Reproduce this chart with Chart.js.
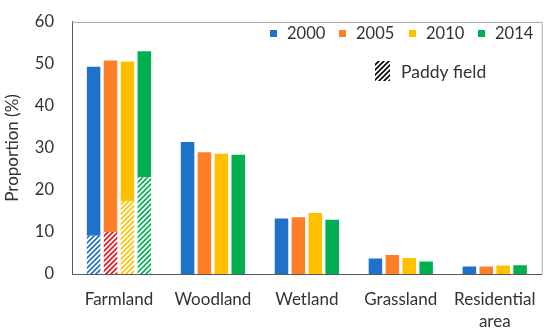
<!DOCTYPE html>
<html><head><meta charset="utf-8">
<script src="https://cdn.jsdelivr.net/npm/chart.js@4"></script>
<style>html,body{margin:0;padding:0;background:#fff}#wrap{width:550px;height:333px;position:relative}</style>
</head><body><div id="wrap"><canvas id="c" width="550" height="333"></canvas></div>
<script>
const categories = ["Farmland", "Woodland", "Wetland", "Grassland", ["Residential", "area"]];
const years = ["2000", "2005", "2010", "2014"];
const values2000 = [49.3, 31.4, 13.2, 3.7, 1.8];
const values2005 = [50.8, 29.0, 13.5, 4.5, 1.8];
const values2010 = [50.6, 28.6, 14.5, 3.8, 2.0];
const values2014 = [53.0, 28.4, 12.9, 3.0, 2.1];
const paddy2000 = [9.1, null, null, null, null];
const paddy2005 = [10.0, null, null, null, null];
const paddy2010 = [17.4, null, null, null, null];
const paddy2014 = [23.0, null, null, null, null];
const yTicks = [0, 10, 20, 30, 40, 50, 60];

const colors = ["#1f71c9", "#ff7f27", "#ffc000", "#00b050"];
const hatchColors = ["#1f71c9", "#e8141b", "#ffc000", "#00b050"];
const FONT = "Lato, 'Open Sans', sans-serif";
const TXT = "#333333";

function hatch(color) {
  const s = 5, c = document.createElement("canvas");
  c.width = s; c.height = s;
  const g = c.getContext("2d");
  g.fillStyle = "#fff"; g.fillRect(0, 0, s, s);
  g.strokeStyle = color; g.lineWidth = 1.6;
  g.beginPath();
  g.moveTo(-1, s + 1); g.lineTo(s + 1, -1);
  g.moveTo(-1, 1); g.lineTo(1, -1);
  g.moveTo(s - 1, s + 1); g.lineTo(s + 1, s - 1);
  g.stroke();
  return document.getElementById("c").getContext("2d").createPattern(c, "repeat");
}

const totals = [values2000, values2005, values2010, values2014];
const paddies = [paddy2000, paddy2005, paddy2010, paddy2014];
const datasets = [];
years.forEach((y, i) => {
  datasets.push({
    label: y + " paddy", stack: y, data: paddies[i],
    backgroundColor: hatch(hatchColors[i]), borderWidth: 0
  });
  datasets.push({
    label: y, stack: y,
    data: totals[i].map((v, k) => v - (paddies[i][k] || 0)),
    backgroundColor: colors[i], borderWidth: 0
  });
});

const legendPlugin = {
  id: "customLegend",
  afterDraw(chart) {
    const ctx = chart.ctx;
    ctx.save();
    ctx.font = "16.5px " + FONT;
    ctx.textBaseline = "middle";
    const xs = [270, 339, 409, 478];
    years.forEach((y, i) => {
      ctx.fillStyle = colors[i];
      ctx.fillRect(xs[i], 30, 7, 7);
      ctx.fillStyle = TXT;
      ctx.fillText(y, xs[i] + 17, 34);
    });
    ctx.fillStyle = hatch("#000");
    ctx.fillRect(375, 61, 15, 20);
    ctx.fillStyle = TXT;
    ctx.font = "17.5px " + FONT;
    ctx.fillText("Paddy field", 401, 72);
    const a = chart.chartArea;
    ctx.strokeStyle = "#a6a6a6"; ctx.lineWidth = 1;
    ctx.beginPath();
    ctx.moveTo(a.left, a.top + 0.5); ctx.lineTo(a.right + 0.5, a.top + 0.5); ctx.lineTo(a.right + 0.5, a.bottom);
    ctx.stroke();
    ctx.restore();
  }
};

new Chart(document.getElementById("c"), {
  type: "bar",
  data: { labels: categories, datasets },
  options: {
    responsive: false, animation: false,
    layout: { padding: { left: 0, right: 6, top: 11, bottom: 0 } },
    plugins: { legend: { display: false }, tooltip: { enabled: false } },
    datasets: { bar: { barPercentage: 0.8, categoryPercentage: 0.72 } },
    scales: {
      x: {
        stacked: true,
        grid: { display: false, drawTicks: false },
        border: { color: "#595959", width: 1 },
        ticks: { color: TXT, font: { size: 17, family: FONT, lineHeight: 1.3 }, padding: 14, maxRotation: 0, autoSkip: false },
        afterFit(s) { s.height = 59; }
      },
      y: {
        stacked: true, min: 0, max: 60,
        afterBuildTicks(s) { s.ticks = yTicks.map(v => ({ value: v })); },
        grid: { display: false, drawTicks: true, tickLength: 6, tickColor: "#595959" },
        border: { color: "#595959", width: 1 },
        ticks: { color: TXT, font: { size: 16.5, family: FONT }, padding: 12 },
        title: { display: true, text: "Proportion (%)", color: TXT, font: { size: 17, family: FONT }, padding: { top: 2, bottom: 0 } },
        afterFit(s) { s.width = 72; }
      }
    }
  },
  plugins: [legendPlugin]
});
</script></body></html>
